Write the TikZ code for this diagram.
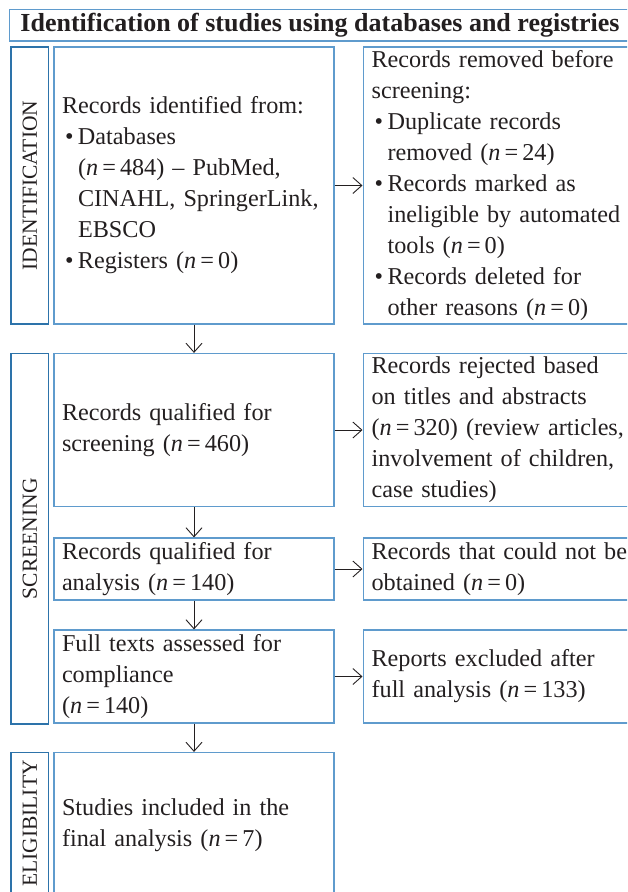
\documentclass[tikz,border=0pt]{standalone}
\usepackage{fontspec}
\setmainfont{Liberation Serif}
\usetikzlibrary{arrows.meta}
\definecolor{boxblue}{RGB}{95,155,205}
\definecolor{labblue}{RGB}{45,115,170}
\definecolor{ink}{RGB}{35,31,32}
\newcommand{\bl}{\makebox[16pt][l]{\hspace{3pt}\textbullet}}
\newcommand{\ind}{\hspace*{16pt}}
\newcommand{\nv}[1]{(\textit{n}\hspace{0.17em}=\hspace{0.17em}#1)}
\newcommand{\boxfont}{\fontsize{24.2}{31}\selectfont\spaceskip=0.22em plus 0.05em minus 0.02em\relax}
\begin{document}
\begin{tikzpicture}[x=1pt,y=-1pt,
  box/.style={draw=boxblue, line width=1.2pt, text=ink, align=left,
    inner xsep=8pt, inner ysep=0pt, font=\boxfont},
  mainbox/.style={box, text width=264pt, minimum width=280pt},
  rbox/.style={box, anchor=west, inner xsep=8.5pt, text width=300pt, minimum width=317pt},
  labbox/.style={draw=labblue, line width=1.2pt, rotate=90, minimum height=37.5pt,
    inner sep=0pt, text=ink, font=\fontsize{21.5}{22}\selectfont},
  labtext/.style={rotate=90, inner sep=0pt, text=ink, font=\fontsize{21.5}{22}\selectfont},
  titlebox/.style={draw=boxblue, line width=1.2pt, text=ink, inner sep=0pt,
    font=\fontsize{26}{30}\selectfont\bfseries},
  arr/.style={draw=ink, line width=0.9pt, -{Straight Barb[length=9pt,width=16pt]}}
]
\useasboundingbox (0,0) rectangle (627,892);
\clip (0,0) rectangle (627,892);

\node[titlebox, minimum width=621pt, minimum height=31.5pt] (title) at (320,25.25)
  {Identification of studies using databases and registries};

% stage labels
\node[labbox, minimum width=277pt] (lid) at (29.75,185.5) {IDENTIFICATION};
\node[labbox, minimum width=370.5pt] (lsc) at (29.75,538.75) {SCREENING};
\node[labbox, minimum width=160pt] (lel) at (29.75,832.5) {};
\node[labtext, anchor=east] (lelt) at (29.75,760) {ELIGIBILITY};

% main column
\node[mainbox, minimum height=277pt] (b1) at (194,185.5)
  {Records identified from:\\
   \bl Databases\\
   \ind\nv{484} – PubMed,\\
   \ind CINAHL, SpringerLink,\\
   \ind EBSCO\\
   \bl Registers \nv{0}};
\node[mainbox, minimum height=153pt] (b2) at (194,430)
  {Records qualified for\\ screening \nv{460}};
\node[mainbox, minimum height=62pt] (b3) at (194,569)
  {Records qualified for\\ analysis \nv{140}};
\node[mainbox, minimum height=93pt] (b4) at (194,676.5)
  {Full texts assessed for\\ compliance\\ \nv{140}};
\node[mainbox, minimum height=146pt] (b5) at (194,825.5)
  {Studies included in the\\ final analysis \nv{7}};

% right column
\node[rbox, minimum height=277pt] (r1) at (362.5,185.5)
  {Records removed before\\
   screening:\\
   \bl Duplicate records\\
   \ind removed \nv{24}\\
   \bl Records marked as\\
   \ind ineligible by automated\\
   \ind tools \nv{0}\\
   \bl Records deleted for\\
   \ind other reasons \nv{0}};
\node[rbox, minimum height=153pt] (r2) at (362.5,430)
  {Records rejected based\\
   on titles and abstracts\\
   \nv{320} (review articles,\\
   involvement of children,\\
   case studies)};
\node[rbox, minimum height=62pt] (r3) at (362.5,569)
  {Records that could not be\\ obtained \nv{0}};
\node[rbox, minimum height=93pt] (r4) at (362.5,676.5)
  {Reports excluded after\\ full analysis \nv{133}};

% connectors
\draw[arr] (b1.east) -- (r1.west);
\draw[arr] (b2.east) -- (r2.west);
\draw[arr] (b3.east) -- (r3.west);
\draw[arr] (b4.east) -- (r4.west);
\draw[arr] (b1.south) -- (b2.north);
\draw[arr] (b2.south) -- (b3.north);
\draw[arr] (b3.south) -- (b4.north);
\draw[arr] (b4.south) -- (b5.north);
\end{tikzpicture}
\end{document}
